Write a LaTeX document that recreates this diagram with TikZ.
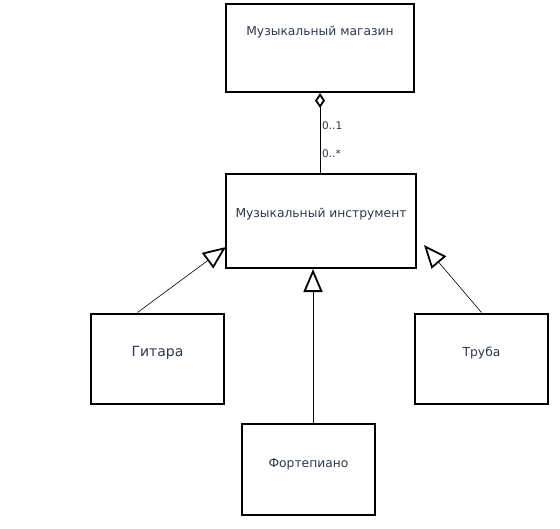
\documentclass[tikz,border=0pt]{standalone}
\usepackage{fontspec}
\setmainfont{DejaVu Sans}
\usetikzlibrary{arrows.meta,positioning}
\definecolor{txt}{RGB}{45,55,75}
\tikzset{box/.style={draw, line width=2pt, inner sep=0pt},
lbl/.style={font=\fontsize{12.3}{14}\selectfont, text=txt},
gen/.style={line width=0.6pt, -{Triangle[open, length=23pt, width=19pt, line width=1.8pt]}},
aggr/.style={line width=0.8pt, {Diamond[open, length=15pt, width=10pt, line width=1.8pt]}-},
mult/.style={font=\fontsize{10.5}{12}\selectfont, text=txt, anchor=west, inner sep=0pt}}

\begin{document}
\begin{tikzpicture}[x=1pt, y=-1pt]
\useasboundingbox (0,0) rectangle (560,528);
% Boxes
\node[box, minimum width=188pt, minimum height=88pt, label={[lbl, yshift=16pt]center:Музыкальный магазин}] (store) at (320,48) {};
\node[box, minimum width=190pt, minimum height=94pt, label={[lbl, yshift=7pt]center:Музыкальный инструмент}] (instr) at (321,221) {};
\node[box, minimum width=133pt, minimum height=90pt, label={[lbl, font=\fontsize{14}{16}\selectfont, yshift=6pt]center:Гитара}] (guitar) at (157.5,358.5) {};
\node[box, minimum width=133pt, minimum height=90pt, label={[lbl, yshift=6pt]center:Труба}] (tube) at (481.5,358.5) {};
\node[box, minimum width=133pt, minimum height=91pt, label={[lbl, yshift=5pt]center:Фортепиано}] (piano) at (308.5,469) {};

% Aggregation
\draw[aggr] (store.south) -- (store.south |- instr.north);
\node[mult] (mone) at (322,126) {0..1};
\node[mult] (mmany) at (322,154) {0..*};

% Generalization
\draw[gen] ([xshift=-20pt]guitar.north) -- ([xshift=1pt, yshift=-26pt]instr.west);
\draw[gen] (tube.north) -- ([xshift=7pt, yshift=-24pt]instr.east);
\draw[gen] ([xshift=4.5pt]piano.north) -- ([xshift=-8pt]instr.south);
\end{tikzpicture}
\end{document}
